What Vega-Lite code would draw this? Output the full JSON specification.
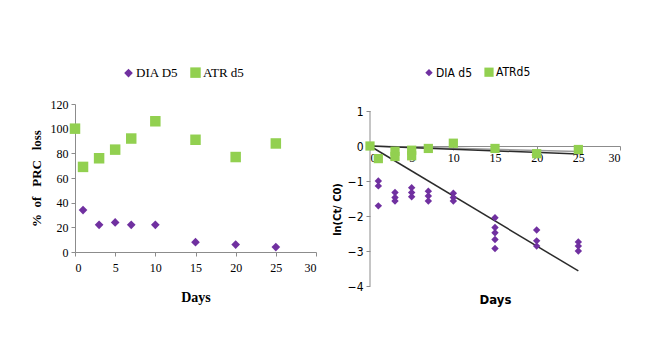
{
  "$schema": "https://vega.github.io/schema/vega-lite/v6.json",
  "background": "white",
  "padding": {"left": 30, "top": 66, "right": 5, "bottom": 5},
  "autosize": {"type": "pad"},
  "spacing": 14,
  "config": {
    "view": {"stroke": null},
    "axis": {"grid": false, "domainColor": "#8c8c8c", "tickColor": "#8c8c8c", "labelColor": "#000000", "titleColor": "#000000", "labelOverlap": false}
  },
  "datasets": {
    "left": [
      {"day": 1, "pct": 34, "series": "DIA D5"},
      {"day": 3, "pct": 22, "series": "DIA D5"},
      {"day": 5, "pct": 24, "series": "DIA D5"},
      {"day": 7, "pct": 22, "series": "DIA D5"},
      {"day": 10, "pct": 22, "series": "DIA D5"},
      {"day": 15, "pct": 8, "series": "DIA D5"},
      {"day": 20, "pct": 6, "series": "DIA D5"},
      {"day": 25, "pct": 4, "series": "DIA D5"},
      {"day": 0, "pct": 100, "series": "ATR d5"},
      {"day": 1, "pct": 69, "series": "ATR d5"},
      {"day": 3, "pct": 76, "series": "ATR d5"},
      {"day": 5, "pct": 83, "series": "ATR d5"},
      {"day": 7, "pct": 92, "series": "ATR d5"},
      {"day": 10, "pct": 106, "series": "ATR d5"},
      {"day": 15, "pct": 91, "series": "ATR d5"},
      {"day": 20, "pct": 77, "series": "ATR d5"},
      {"day": 25, "pct": 88, "series": "ATR d5"}
    ],
    "rightPts": [
      {"day": 0, "lnc": 0, "series": "ATR d5"},
      {"day": 1, "lnc": -0.36, "series": "ATR d5"},
      {"day": 3, "lnc": -0.15, "series": "ATR d5"},
      {"day": 3, "lnc": -0.3, "series": "ATR d5"},
      {"day": 5, "lnc": -0.12, "series": "ATR d5"},
      {"day": 5, "lnc": -0.28, "series": "ATR d5"},
      {"day": 7, "lnc": -0.07, "series": "ATR d5"},
      {"day": 10, "lnc": 0.08, "series": "ATR d5"},
      {"day": 15, "lnc": -0.07, "series": "ATR d5"},
      {"day": 20, "lnc": -0.22, "series": "ATR d5"},
      {"day": 25, "lnc": -0.1, "series": "ATR d5"},
      {"day": 1, "lnc": -1.0, "series": "DIA d5"},
      {"day": 1, "lnc": -1.14, "series": "DIA d5"},
      {"day": 1, "lnc": -1.71, "series": "DIA d5"},
      {"day": 3, "lnc": -1.33, "series": "DIA d5"},
      {"day": 3, "lnc": -1.47, "series": "DIA d5"},
      {"day": 3, "lnc": -1.57, "series": "DIA d5"},
      {"day": 5, "lnc": -1.19, "series": "DIA d5"},
      {"day": 5, "lnc": -1.33, "series": "DIA d5"},
      {"day": 5, "lnc": -1.45, "series": "DIA d5"},
      {"day": 7, "lnc": -1.29, "series": "DIA d5"},
      {"day": 7, "lnc": -1.43, "series": "DIA d5"},
      {"day": 7, "lnc": -1.57, "series": "DIA d5"},
      {"day": 10, "lnc": -1.35, "series": "DIA d5"},
      {"day": 10, "lnc": -1.47, "series": "DIA d5"},
      {"day": 10, "lnc": -1.57, "series": "DIA d5"},
      {"day": 15, "lnc": -2.05, "series": "DIA d5"},
      {"day": 15, "lnc": -2.33, "series": "DIA d5"},
      {"day": 15, "lnc": -2.48, "series": "DIA d5"},
      {"day": 15, "lnc": -2.67, "series": "DIA d5"},
      {"day": 15, "lnc": -2.93, "series": "DIA d5"},
      {"day": 20, "lnc": -2.4, "series": "DIA d5"},
      {"day": 20, "lnc": -2.71, "series": "DIA d5"},
      {"day": 20, "lnc": -2.86, "series": "DIA d5"},
      {"day": 25, "lnc": -2.74, "series": "DIA d5"},
      {"day": 25, "lnc": -2.86, "series": "DIA d5"},
      {"day": 25, "lnc": -3.0, "series": "DIA d5"}
    ],
    "rightLines": [
      {"day": 0, "lnc": 0, "line": "ATRgray"},
      {"day": 25, "lnc": -0.16, "line": "ATRgray"},
      {"day": 0, "lnc": 0, "line": "ATR"},
      {"day": 25, "lnc": -0.23, "line": "ATR"},
      {"day": 0, "lnc": 0, "line": "DIA"},
      {"day": 25, "lnc": -3.57, "line": "DIA"}
    ],
    "rightYAxis": [
      {"day": 0, "lnc": -4, "hi": 1}
    ]
  },
  "hconcat": [
    {
      "width": 241,
      "height": 148,
      "data": {"name": "left"},
      "mark": {"type": "point", "filled": true, "opacity": 1},
      "encoding": {
        "x": {
          "field": "day", "type": "quantitative",
          "scale": {"domain": [0, 30], "nice": false, "zero": false},
          "axis": {"values": [0, 5, 10, 15, 20, 25, 30], "title": "Days", "titleFont": "Liberation Serif", "titleFontSize": 14, "titleFontWeight": "bold", "labelFont": "Liberation Serif", "labelFontSize": 12, "tickSize": 4, "labelPadding": 6, "titlePadding": 17}
        },
        "y": {
          "field": "pct", "type": "quantitative",
          "scale": {"domain": [0, 120], "nice": false},
          "axis": {"values": [0, 20, 40, 60, 80, 100, 120], "title": "%\u00a0\u00a0of\u00a0\u00a0\u00a0PRC\u00a0\u00a0\u00a0loss", "titleFont": "Liberation Serif", "titleFontSize": 13, "titleFontWeight": "bold", "labelFont": "Liberation Serif", "labelFontSize": 12, "tickSize": 4, "labelPadding": 3, "titlePadding": 7}
        },
        "color": {
          "field": "series", "type": "nominal",
          "scale": {"domain": ["DIA D5", "ATR d5"], "range": ["#7030A0", "#92D050"]},
          "legend": {"orient": "none", "legendX": 47, "legendY": -38, "direction": "horizontal", "title": null, "labelFont": "Liberation Serif", "labelFontSize": 13, "symbolSize": 45, "columnPadding": 8, "labelOffset": 1, "symbolOpacity": 1}
        },
        "shape": {
          "field": "series", "type": "nominal",
          "scale": {"domain": ["DIA D5", "ATR d5"], "range": ["diamond", "square"]}
        },
        "size": {
          "field": "series", "type": "nominal",
          "scale": {"domain": ["DIA D5", "ATR d5"], "range": [75, 110]},
          "legend": null
        }
      }
    },
    {
      "width": 250,
      "height": 182,
      "encoding": {
        "x": {
          "field": "day", "type": "quantitative",
          "scale": {"domain": [0, 30], "nice": false, "zero": false},
          "axis": {"values": [0, 5, 10, 15, 20, 25, 30], "offset": -140, "title": "Days", "titleFont": "Liberation Sans Narrow, DejaVu Sans Condensed, sans-serif", "titleFontSize": 13, "titleFontWeight": "bold", "labelFont": "Liberation Serif", "labelFontSize": 12, "tickSize": 4, "labelPadding": 2, "titlePadding": 130}
        },
        "y": {
          "field": "lnc", "type": "quantitative",
          "scale": {"domain": [-4, 1.2], "nice": false, "zero": false},
          "axis": {"values": [-4, -3, -2, -1, 0, 1], "domain": false, "title": "ln(Ct/ C0)", "titleFont": "Liberation Sans Narrow, DejaVu Sans Condensed, sans-serif", "titleFontSize": 11, "titleFontWeight": "bold", "titleX": -28, "titleY": 105, "labelFont": "Liberation Sans Narrow, DejaVu Sans Condensed, sans-serif", "labelFontSize": 12, "tickSize": 4, "labelPadding": 3}
        }
      },
      "layer": [
        {
          "data": {"name": "rightYAxis"},
          "mark": {"type": "rule", "color": "#8c8c8c", "strokeWidth": 1},
          "encoding": {
            "y2": {"field": "hi"}
          }
        },
        {
          "data": {"name": "rightLines"},
          "mark": {"type": "line", "strokeWidth": 1.5},
          "encoding": {
            "detail": {"field": "line"},
            "stroke": {"field": "line", "type": "nominal", "scale": {"domain": ["ATRgray", "ATR", "DIA"], "range": ["#9a9a9a", "#2b2b2b", "#2b2b2b"]}, "legend": null}
          }
        },
        {
          "data": {"name": "rightPts"},
          "mark": {"type": "point", "filled": true, "opacity": 1},
          "encoding": {
            "color": {
              "field": "series", "type": "nominal",
              "scale": {"domain": ["DIA d5", "ATR d5"], "range": ["#7030A0", "#92D050"]},
              "legend": {"orient": "none", "legendX": 53, "legendY": -38, "direction": "horizontal", "title": null, "labelFont": "Liberation Sans Narrow, DejaVu Sans Condensed, sans-serif", "labelFontSize": 12, "symbolSize": 45, "columnPadding": 8, "labelOffset": 1, "symbolOpacity": 1, "labelExpr": "datum.label == 'ATR d5' ? 'ATRd5' : datum.label"}
            },
            "shape": {
              "field": "series", "type": "nominal",
              "scale": {"domain": ["DIA d5", "ATR d5"], "range": ["diamond", "square"]}
            },
            "size": {
              "field": "series", "type": "nominal",
              "scale": {"domain": ["DIA d5", "ATR d5"], "range": [55, 85]},
              "legend": null
            }
          }
        }
      ]
    }
  ],
  "resolve": {"scale": {"color": "independent", "shape": "independent", "size": "independent", "x": "independent", "y": "independent"}, "legend": {"color": "independent", "shape": "independent"}}
}
